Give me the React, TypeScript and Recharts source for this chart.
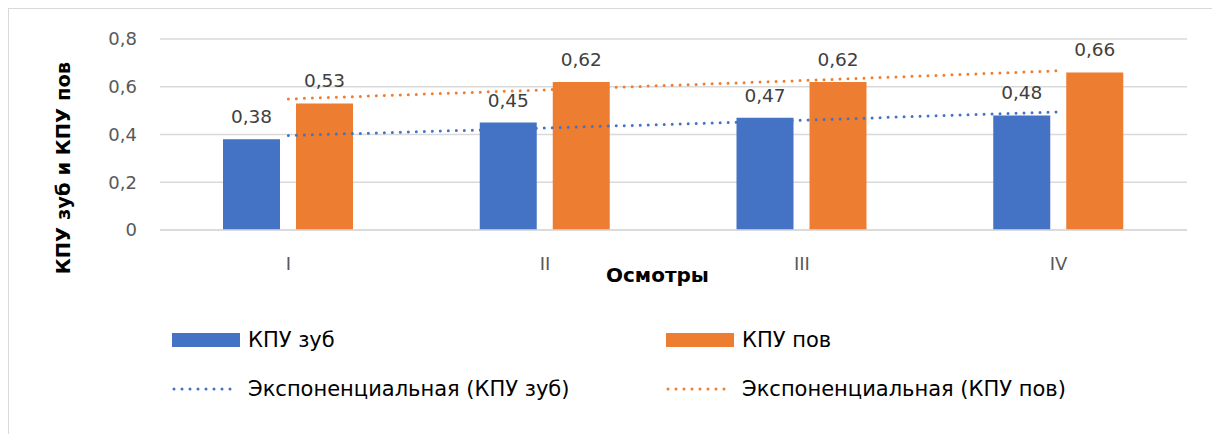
import React from 'react';
import {
  ComposedChart,
  Bar,
  Line,
  XAxis,
  YAxis,
  CartesianGrid,
  LabelList,
  Legend,
} from 'recharts';

// Examinations (categories)
const categories = ['I', 'II', 'III', 'IV'];
// КПУ зуб — per-tooth index
const kpuZub = [0.38, 0.45, 0.47, 0.48];
// КПУ пов — per-surface index
const kpuPov = [0.53, 0.62, 0.62, 0.66];
// Exponential trend values at each examination
const trendZub = [0.396, 0.427, 0.46, 0.495];
const trendPov = [0.549, 0.587, 0.626, 0.667];
// Value axis ticks
const yTicks = [0, 0.2, 0.4, 0.6, 0.8];

const BLUE = '#4472C4';
const ORANGE = '#ED7D31';
const FONT = '"DejaVu Sans", "Noto Sans", sans-serif';

const data = categories.map((name, i) => ({
  name,
  zub: kpuZub[i],
  pov: kpuPov[i],
  tZub: trendZub[i],
  tPov: trendPov[i],
}));

const comma = (v: number) => (v === 0 ? '0' : String(v).replace('.', ','));
const fmt2 = (v: any) => Number(v).toFixed(2).replace('.', ',');

const YTitle = (props: any) => {
  const vb = props.viewBox || {};
  const x = (vb.x || 0) + 54;
  const y = 159;
  return (
    <text
      x={x}
      y={y}
      transform={`rotate(-90, ${x}, ${y})`}
      textAnchor="middle"
      dominantBaseline="central"
      fontFamily={FONT}
      fontWeight="bold"
      fontSize={19.5}
      fill="#000"
    >
      КПУ зуб и КПУ пов
    </text>
  );
};

const XTitle = (props: any) => {
  const vb = props.viewBox || {};
  const x = (vb.x || 0) + (vb.width || 0) / 2 - 16;
  const y = (vb.y || 0) + 52;
  return (
    <text x={x} y={y} textAnchor="middle" fontFamily={FONT} fontWeight="bold" fontSize={20} fill="#000">
      Осмотры
    </text>
  );
};

const Dots = ({ color }: { color: string }) => (
  <svg width={68} height={6} style={{ position: 'absolute', left: 0, top: -3 }}>
    <line
      x1={2}
      y1={3}
      x2={66}
      y2={3}
      stroke={color}
      strokeWidth={3}
      strokeLinecap="round"
      strokeDasharray="0 8"
    />
  </svg>
);

const legendItems = [
  { label: 'КПУ зуб', color: BLUE, kind: 'bar', x: 163, y: 331 },
  { label: 'КПУ пов', color: ORANGE, kind: 'bar', x: 657, y: 331 },
  { label: 'Экспоненциальная (КПУ зуб)', color: BLUE, kind: 'line', x: 163, y: 380 },
  { label: 'Экспоненциальная (КПУ пов)', color: ORANGE, kind: 'line', x: 657, y: 380 },
];

const LegendContent = () => (
  <div style={{ position: 'relative', width: 0, height: 0 }}>
    {legendItems.map((it) => (
      <div key={it.label} style={{ position: 'absolute', left: it.x, top: it.y, height: 0 }}>
        {it.kind === 'bar' ? (
          <div
            style={{ position: 'absolute', left: 0, top: -7, width: 68, height: 14, background: it.color }}
          />
        ) : (
          <Dots color={it.color} />
        )}
        <span
          style={{
            position: 'absolute',
            left: 76,
            top: -15,
            lineHeight: '30px',
            whiteSpace: 'nowrap',
            fontFamily: FONT,
            fontSize: 21,
            color: '#000',
          }}
        >
          {it.label}
        </span>
      </div>
    ))}
  </div>
);

export default function App() {
  return (
    <div
      style={{
        width: 1208,
        height: 430,
        border: '1px solid #d9d9d9',
        background: '#fff',
        fontFamily: FONT,
      }}
    >
      <ComposedChart
        width={1208}
        height={430}
        data={data}
        margin={{ top: 30, right: 30, bottom: 149, left: 0 }}
        barCategoryGap={63}
        barGap={16}
        style={{ fontFamily: FONT }}
      >
        <CartesianGrid vertical={false} stroke="#d9d9d9" strokeWidth={1.5} />
        <XAxis
          dataKey="name"
          height={60}
          axisLine={{ stroke: '#d9d9d9', strokeWidth: 1.5 }}
          tickLine={false}
          tickSize={0}
          tickMargin={27}
          tick={{ fill: '#595959', fontSize: 18, fontFamily: FONT }}
          label={{ content: XTitle }}
        />
        <YAxis
          width={151}
          domain={[0, 0.8]}
          ticks={yTicks}
          tickFormatter={comma}
          axisLine={false}
          tickLine={false}
          tickSize={0}
          tickMargin={23}
          tick={{ fill: '#595959', fontSize: 18, fontFamily: FONT }}
          label={{ content: YTitle }}
        />
        <Bar dataKey="zub" fill={BLUE} isAnimationActive={false}>
          <LabelList
            dataKey="zub"
            position="top"
            offset={16}
            formatter={fmt2}
            style={{ fill: '#404040', fontSize: 18.5, fontFamily: FONT }}
          />
        </Bar>
        <Bar dataKey="pov" fill={ORANGE} isAnimationActive={false}>
          <LabelList
            dataKey="pov"
            position="top"
            offset={16}
            formatter={fmt2}
            style={{ fill: '#404040', fontSize: 18.5, fontFamily: FONT }}
          />
        </Bar>
        <Line
          type="linear"
          dataKey="tZub"
          stroke={BLUE}
          strokeWidth={3}
          strokeLinecap="round"
          strokeDasharray="0 8"
          dot={false}
          activeDot={false}
          isAnimationActive={false}
        />
        <Line
          type="linear"
          dataKey="tPov"
          stroke={ORANGE}
          strokeWidth={3}
          strokeLinecap="round"
          strokeDasharray="0 8"
          dot={false}
          activeDot={false}
          isAnimationActive={false}
        />
        <Legend content={LegendContent} wrapperStyle={{ top: 0, left: 0, width: 0, height: 0 }} />
      </ComposedChart>
    </div>
  );
}
